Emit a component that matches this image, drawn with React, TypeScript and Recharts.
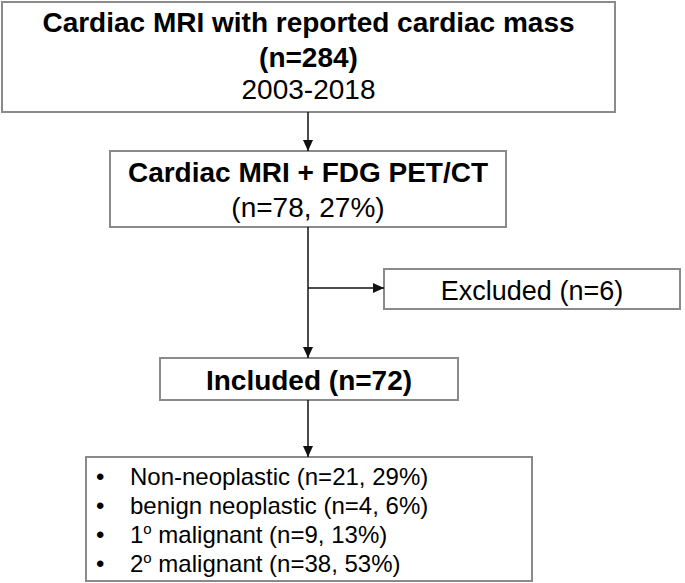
import { ComposedChart, ReferenceArea, ReferenceLine, Scatter, XAxis, YAxis } from 'recharts';

const W = 685;
const H = 583;
const FONT = '"Liberation Sans", Arial, sans-serif';

// flow counts
const screenedCount = 284;
const studyYears = ['2003', '2018'];
const petCount = 78;
const petPct = 27;
const excludedCount = 6;
const includedCount = 72;

// final groups
const groupNames = ['Non-neoplastic', 'benign neoplastic', '1º malignant', '2º malignant'];
const groupCounts = [21, 4, 9, 38];
const groupPcts = [29, 6, 13, 53];

// layout in pixel units (x, y from top-left)
const boxes = {
  screened: { x1: 2, x2: 615, y1: 2, y2: 112 },
  pet: { x1: 110, x2: 506, y1: 151, y2: 227 },
  excluded: { x1: 384, x2: 680, y1: 269, y2: 309 },
  included: { x1: 160, x2: 458, y1: 358, y2: 400 },
  groups: { x1: 86, x2: 532, y1: 457, y2: 581 },
};
const trunkX = 308;
const branchY = 288;

const arrows = [
  { from: { x: trunkX, y: boxes.screened.y2 }, to: { x: trunkX, y: boxes.pet.y1 } },
  { from: { x: trunkX, y: boxes.pet.y2 }, to: { x: trunkX, y: boxes.included.y1 } },
  { from: { x: trunkX, y: branchY }, to: { x: boxes.excluded.x1, y: branchY } },
  { from: { x: trunkX, y: boxes.included.y2 }, to: { x: trunkX, y: boxes.groups.y1 } },
];
const heads = arrows.map((a) => ({
  x: a.to.x,
  y: a.to.y,
  dir: a.from.x === a.to.x ? 'down' : 'right',
}));

type Line = { text: string; bold?: boolean; size: number; dy: number };

const centered = (lines: Line[]) => (props: any) => {
  const { x, y, width } = props.viewBox;
  return (
    <g>
      {lines.map((l, i) => (
        <text
          key={i}
          x={x + width / 2}
          y={y + l.dy}
          textAnchor="middle"
          fontFamily={FONT}
          fontSize={l.size}
          fontWeight={l.bold ? 700 : 400}
          fill="#000"
        >
          {l.text}
        </text>
      ))}
    </g>
  );
};

const renderGroupName = (name: string) => {
  const m = name.match(/^(\d)º (.*)$/);
  if (!m) return name;
  return (
    <>
      {m[1]}
      <tspan fontSize={15} dy={-9}>o</tspan>
      <tspan dy={9}>{' ' + m[2]}</tspan>
    </>
  );
};

const groupList = (props: any) => {
  const { x, y } = props.viewBox;
  return (
    <g fontFamily={FONT} fontSize={24} fill="#000">
      {groupNames.map((name, i) => (
        <g key={name}>
          <text x={x + 10} y={y + 28 + i * 29}>•</text>
          <text x={x + 44} y={y + 28 + i * 29}>
            {renderGroupName(name)} (n={groupCounts[i]}, {groupPcts[i]}%)
          </text>
        </g>
      ))}
    </g>
  );
};

const ArrowHead = (props: any) => {
  const { cx, cy, payload } = props;
  const pts =
    payload.dir === 'down'
      ? `${cx - 5},${cy - 11} ${cx + 5},${cy - 11} ${cx},${cy}`
      : `${cx - 11},${cy - 5} ${cx - 11},${cy + 5} ${cx},${cy}`;
  return <polygon points={pts} fill="#111" />;
};

const boxStyle = { fill: '#fff', fillOpacity: 1, stroke: '#8a8a8a', strokeWidth: 2 };

export default function App() {
  return (
    <div style={{ position: 'absolute', left: 0, top: 0, width: W, height: H, background: '#fff' }}>
      <ComposedChart width={W} height={H} margin={{ top: 0, right: 0, bottom: 0, left: 0 }}>
        <XAxis type="number" dataKey="x" domain={[0, W]} allowDataOverflow hide />
        <YAxis type="number" dataKey="y" domain={[0, H]} allowDataOverflow reversed hide />

        {arrows.map((a, i) => (
          <ReferenceLine
            key={i}
            segment={[a.from, a.to]}
            stroke="#111"
            strokeWidth={1.5}
            ifOverflow="visible"
          />
        ))}

        <ReferenceArea
          {...boxes.screened}
          {...boxStyle}
          label={centered([
            { text: 'Cardiac MRI with reported cardiac mass', bold: true, size: 28, dy: 30 },
            { text: `(n=${screenedCount})`, bold: true, size: 28, dy: 65 },
            { text: studyYears.join('-'), size: 28, dy: 97 },
          ])}
        />
        <ReferenceArea
          {...boxes.pet}
          {...boxStyle}
          label={centered([
            { text: 'Cardiac MRI + FDG PET/CT', bold: true, size: 28, dy: 31 },
            { text: `(n=${petCount}, ${petPct}%)`, size: 28, dy: 66 },
          ])}
        />
        <ReferenceArea
          {...boxes.excluded}
          {...boxStyle}
          label={centered([{ text: `Excluded (n=${excludedCount})`, size: 27, dy: 31 }])}
        />
        <ReferenceArea
          {...boxes.included}
          {...boxStyle}
          label={centered([{ text: `Included (n=${includedCount})`, bold: true, size: 28, dy: 32 }])}
        />
        <ReferenceArea {...boxes.groups} {...boxStyle} label={groupList} />

        <Scatter data={heads} isAnimationActive={false} shape={<ArrowHead />} />
      </ComposedChart>
    </div>
  );
}
